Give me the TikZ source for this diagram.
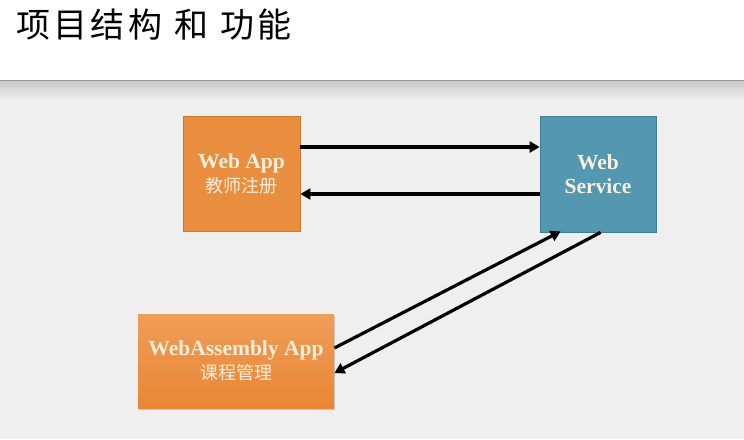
\documentclass[tikz,border=0pt]{standalone}
\usepackage{fontspec}
\setmainfont{Liberation Serif}
\newfontfamily\cjk{Noto Sans CJK SC}
\newfontfamily\cjktitle[LetterSpace=10]{Noto Sans CJK SC}
\newcommand\latf{\bfseries}
\newcommand\cjkf{\cjk\fontsize{18}{25}\selectfont}
\usetikzlibrary{arrows.meta,shadows,calc}
\definecolor{bgray}{HTML}{EFEFEF}
\definecolor{appor}{HTML}{E98D3F}
\definecolor{appbd}{HTML}{C9782F}
\definecolor{svc}{HTML}{5397B0}
\definecolor{svcbd}{HTML}{3E7F97}
\definecolor{wtop}{HTML}{EF9D58}
\definecolor{wbot}{HTML}{E98634}
\definecolor{txt}{HTML}{FCEEDC}
\tikzset{
  box/.style={rectangle, draw, line width=0.8pt, inner sep=0pt, align=center, text=txt,
    font=\fontsize{21.5}{24}\selectfont},
  arr/.style={line width=3.2pt, -{Triangle[length=10pt,width=11pt]}},
}
\begin{document}
\begin{tikzpicture}[x=1pt,y=-1pt]
\useasboundingbox (0,0) rectangle (744,439);
% background
\fill[white] (0,0) rectangle (744,80);
\fill[bgray] (0,80) rectangle (744,439);
\shade[top color=black!22, bottom color=bgray] (0,80) rectangle (744,100);
\draw[black!40, line width=1pt] (0,80.5) -- (744,80.5);
% title
\node[anchor=west, font=\cjktitle\fontsize{34}{38}\selectfont, inner sep=0pt] (title) at (16,25) {项目结构\hspace{12pt}和\hspace{12pt}功能};
% boxes
\node[box, fill=appor, draw=appbd, minimum width=117, minimum height=115] (webapp) at (241.5,173.5)
  {{\latf Web App}\\{\cjkf 教师注册}};
\node[box, fill=svc, draw=svcbd, minimum width=116, minimum height=116] (websvc) at (598,174)
  {{\latf Web}\\{\latf Service}};
\node[box, top color=wtop, bottom color=wbot, draw=none, minimum width=196, minimum height=94,
  drop shadow={opacity=0.35, shadow xshift=1pt, shadow yshift=-2pt}] (wasm) at (236,361)
  {{\latf WebAssembly App}\\{\cjkf 课程管理}};
% arrows
\draw[arr] (webapp.east |- 0,147) -- (websvc.west |- 0,147);
\draw[arr] (websvc.west |- 0,194) -- (webapp.east |- 0,194);
\draw[arr] (wasm.east |- 0,348) -- ($(websvc.south west)+(21,-1)$);
\draw[arr] ($(websvc.south west)+(61,0)$) -- (wasm.east |- 0,373);
\end{tikzpicture}
\end{document}
